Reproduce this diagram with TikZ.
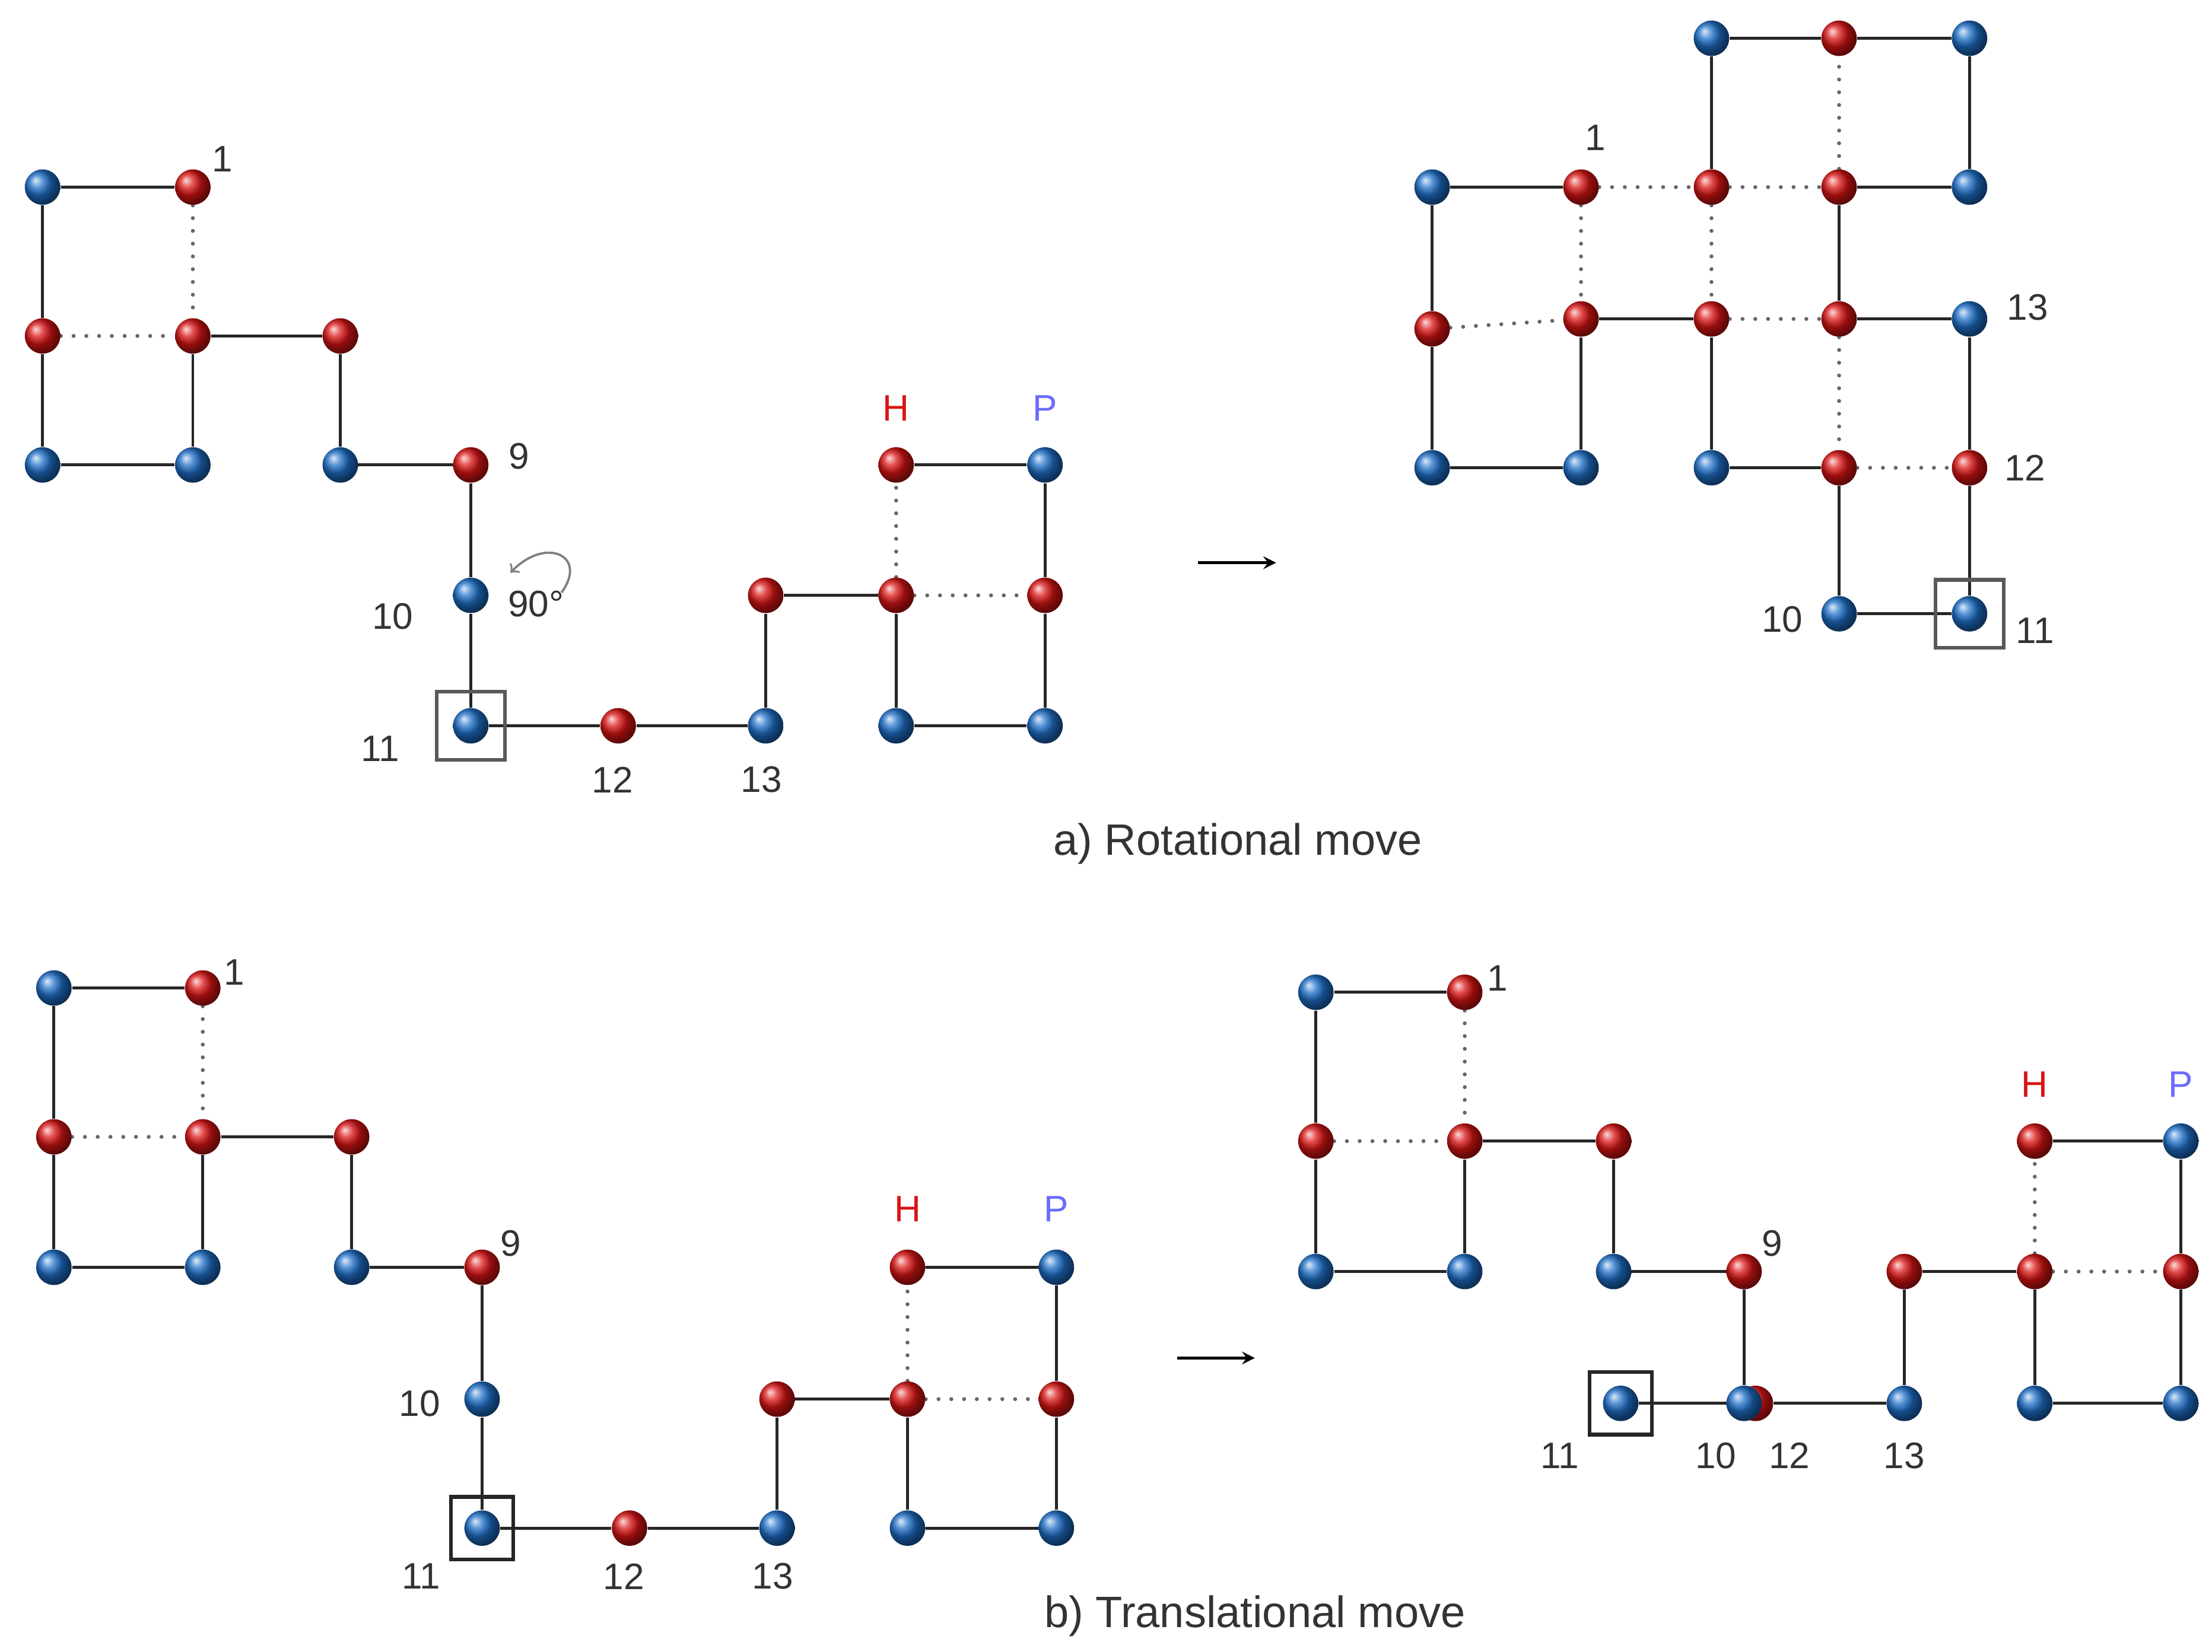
\documentclass[tikz,border=0pt]{standalone}
\usepackage{fontspec}
\setmainfont{Liberation Sans}
\usetikzlibrary{backgrounds}
\definecolor{bl}{HTML}{1E6FC8}
\definecolor{rd}{HTML}{DA1414}
\definecolor{pp}{HTML}{6B6BFF}
\begin{document}
\begin{tikzpicture}[x=0.5pt,y=-0.5pt,
 b/.style={circle,inner sep=0pt,minimum size=12.5pt,shading=ball,ball color=bl},
 r/.style={circle,inner sep=0pt,minimum size=12.5pt,shading=ball,ball color=rd},
 bond/.style={line width=1pt,black!85},
 hh/.style={line width=1.4pt,black!60,dash pattern=on 0pt off 4.5pt,line cap=round},
 lab/.style={font=\fontsize{13}{15}\selectfont,text=black!80},
 captxt/.style={font=\fontsize{15.5}{18}\selectfont,text=black!80},
 box/.style={draw=black!65,line width=1.3pt,minimum size=24pt,inner sep=0pt}]
\useasboundingbox (0,0) rectangle (1560,1165);
% ---------- panel a left ----------
\node[r] (A1) at (136,132) {}; \node[b] (A2) at (30,132) {};
\node[r] (A3) at (30,237) {}; \node[b] (A4) at (30,328) {};
\node[b] (A5) at (136,328) {}; \node[r] (A6) at (136,237) {};
\node[r] (A7) at (240,237) {}; \node[b] (A8) at (240,328) {};
\node[r] (A9) at (332,328) {}; \node[b] (A10) at (332,420) {};
\node[b] (A11) at (332,512) {}; \node[r] (A12) at (436,512) {};
\node[b] (A13) at (540,512) {}; \node[r] (A14) at (540,420) {};
\node[r] (A15) at (632,420) {}; \node[b] (A16) at (632,512) {};
\node[b] (A17) at (737,512) {}; \node[r] (A18) at (737,420) {};
\node[b] (A19) at (737,328) {}; \node[r] (A20) at (632,328) {};
\begin{scope}[on background layer]
\draw[bond] (A1)--(A2)--(A3)--(A4)--(A5)--(A6)--(A7)--(A8)--(A9)--(A10)--(A11)--(A12)--(A13)--(A14)--(A15)--(A16)--(A17)--(A18)--(A19)--(A20);
\draw[hh] (A1)--(A6) (A3)--(A6) (A15)--(A20) (A15)--(A18);
\end{scope}
\node[box] (Abox) at (A11) {};
\node[lab] (La1) at (157,112) {1}; \node[lab] (La9) at (366,322) {9};
\node[lab] (La10) at (277,435) {10}; \node[lab] (La11) at (268,528) {11};
\node[lab] (La12) at (432,550) {12}; \node[lab] (La13) at (537,550) {13};
\node[lab,text=rd] (LaH) at (632,288) {H}; \node[lab,text=pp] (LaP) at (737,288) {P};
\node[lab] (L90) at (378,426) {90\textdegree};
\coordinate (r1) at (396,418); \coordinate (r2) at (360,404);
\draw[gray,line width=0.8pt,->] (r1) .. controls (415,392) and (385,378) .. (r2);
% ---------- panel a right ----------
\node[r] (B1) at (1115,132) {}; \node[b] (B2) at (1010,132) {};
\node[r] (B3) at (1010,232) {}; \node[b] (B4) at (1010,330) {};
\node[b] (B5) at (1115,330) {}; \node[r] (B6) at (1115,225) {};
\node[r] (B7) at (1207,225) {}; \node[b] (B8) at (1207,330) {};
\node[r] (B9) at (1297,330) {}; \node[b] (B10) at (1297,433) {};
\node[b] (B11) at (1389,433) {}; \node[r] (B12) at (1389,330) {};
\node[b] (B13) at (1389,225) {}; \node[r] (B14) at (1297,225) {};
\node[r] (B15) at (1297,132) {}; \node[b] (B16) at (1389,132) {};
\node[b] (B17) at (1389,27) {}; \node[r] (B18) at (1297,27) {};
\node[b] (B19) at (1207,27) {}; \node[r] (B20) at (1207,132) {};
\begin{scope}[on background layer]
\draw[bond] (B1)--(B2)--(B3)--(B4)--(B5)--(B6)--(B7)--(B8)--(B9)--(B10)--(B11)--(B12)--(B13)--(B14)--(B15)--(B16)--(B17)--(B18)--(B19)--(B20);
\draw[hh] (B1)--(B6) (B3)--(B6) (B1)--(B20) (B20)--(B15) (B20)--(B7) (B7)--(B14) (B14)--(B9) (B9)--(B12) (B15)--(B18);
\end{scope}
\node[box] (Bbox) at (B11) {};
\node[lab] (Lb1) at (1125,97) {1}; \node[lab] (Lb13) at (1430,217) {13};
\node[lab] (Lb12) at (1428,330) {12}; \node[lab] (Lb10) at (1257,437) {10};
\node[lab] (Lb11) at (1435,445) {11};
\coordinate (aa1) at (845,397); \coordinate (aa2) at (900,397);
\draw[line width=1pt,-stealth] (aa1)--(aa2);
\node[captxt] (capa) at (873,595) {a) Rotational move};
% ---------- panel b left ----------
\node[r] (C1) at (143,697) {}; \node[b] (C2) at (38,697) {};
\node[r] (C3) at (38,802) {}; \node[b] (C4) at (38,894) {};
\node[b] (C5) at (143,894) {}; \node[r] (C6) at (143,802) {};
\node[r] (C7) at (248,802) {}; \node[b] (C8) at (248,894) {};
\node[r] (C9) at (340,894) {}; \node[b] (C10) at (340,987) {};
\node[b] (C11) at (340,1078) {}; \node[r] (C12) at (444,1078) {};
\node[b] (C13) at (548,1078) {}; \node[r] (C14) at (548,987) {};
\node[r] (C15) at (640,987) {}; \node[b] (C16) at (640,1078) {};
\node[b] (C17) at (745,1078) {}; \node[r] (C18) at (745,987) {};
\node[b] (C19) at (745,894) {}; \node[r] (C20) at (640,894) {};
\begin{scope}[on background layer]
\draw[bond] (C1)--(C2)--(C3)--(C4)--(C5)--(C6)--(C7)--(C8)--(C9)--(C10)--(C11)--(C12)--(C13)--(C14)--(C15)--(C16)--(C17)--(C18)--(C19)--(C20);
\draw[hh] (C1)--(C6) (C3)--(C6) (C15)--(C20) (C15)--(C18);
\end{scope}
\node[box,draw=black!85,minimum size=22pt] (Cbox) at (C11) {};
\node[lab] (Lc1) at (165,686) {1}; \node[lab] (Lc9) at (360,877) {9};
\node[lab] (Lc10) at (296,990) {10}; \node[lab] (Lc11) at (297,1112) {11};
\node[lab] (Lc12) at (440,1112) {12}; \node[lab] (Lc13) at (545,1112) {13};
\node[lab,text=rd] (LcH) at (640,853) {H}; \node[lab,text=pp] (LcP) at (745,853) {P};
% ---------- panel b right ----------
\node[r] (D1) at (1033,700) {}; \node[b] (D2) at (928,700) {};
\node[r] (D3) at (928,805) {}; \node[b] (D4) at (928,897) {};
\node[b] (D5) at (1033,897) {}; \node[r] (D6) at (1033,805) {};
\node[r] (D7) at (1138,805) {}; \node[b] (D8) at (1138,897) {};
\node[r] (D9) at (1230,897) {}; \node[r] (D12) at (1238,990) {};
\node[b] (D10) at (1230,990) {}; \node[b] (D11) at (1143,990) {};
\node[b] (D13) at (1343,990) {}; \node[r] (D14) at (1343,897) {};
\node[r] (D15) at (1435,897) {}; \node[b] (D16) at (1435,990) {};
\node[b] (D17) at (1538,990) {}; \node[r] (D18) at (1538,897) {};
\node[b] (D19) at (1538,805) {}; \node[r] (D20) at (1435,805) {};
\begin{scope}[on background layer]
\draw[bond] (D1)--(D2)--(D3)--(D4)--(D5)--(D6)--(D7)--(D8)--(D9)--(D10)--(D11);
\draw[bond] (D12)--(D13)--(D14)--(D15)--(D16)--(D17)--(D18)--(D19)--(D20);
\draw[hh] (D1)--(D6) (D3)--(D6) (D15)--(D20) (D15)--(D18);
\end{scope}
\node[box,draw=black!85,minimum size=22pt] (Dbox) at (D11) {};
\node[lab] (Ld1) at (1056,690) {1}; \node[lab] (Ld9) at (1250,877) {9};
\node[lab] (Ld11) at (1100,1027) {11}; \node[lab] (Ld10) at (1210,1027) {10};
\node[lab] (Ld12) at (1262,1027) {12}; \node[lab] (Ld13) at (1343,1027) {13};
\node[lab,text=rd] (LdH) at (1435,765) {H}; \node[lab,text=pp] (LdP) at (1538,765) {P};
\coordinate (ba1) at (830,958); \coordinate (ba2) at (885,958);
\draw[line width=1pt,-stealth] (ba1)--(ba2);
\node[captxt] (capb) at (885,1140) {b) Translational move};
\end{tikzpicture}
\end{document}
